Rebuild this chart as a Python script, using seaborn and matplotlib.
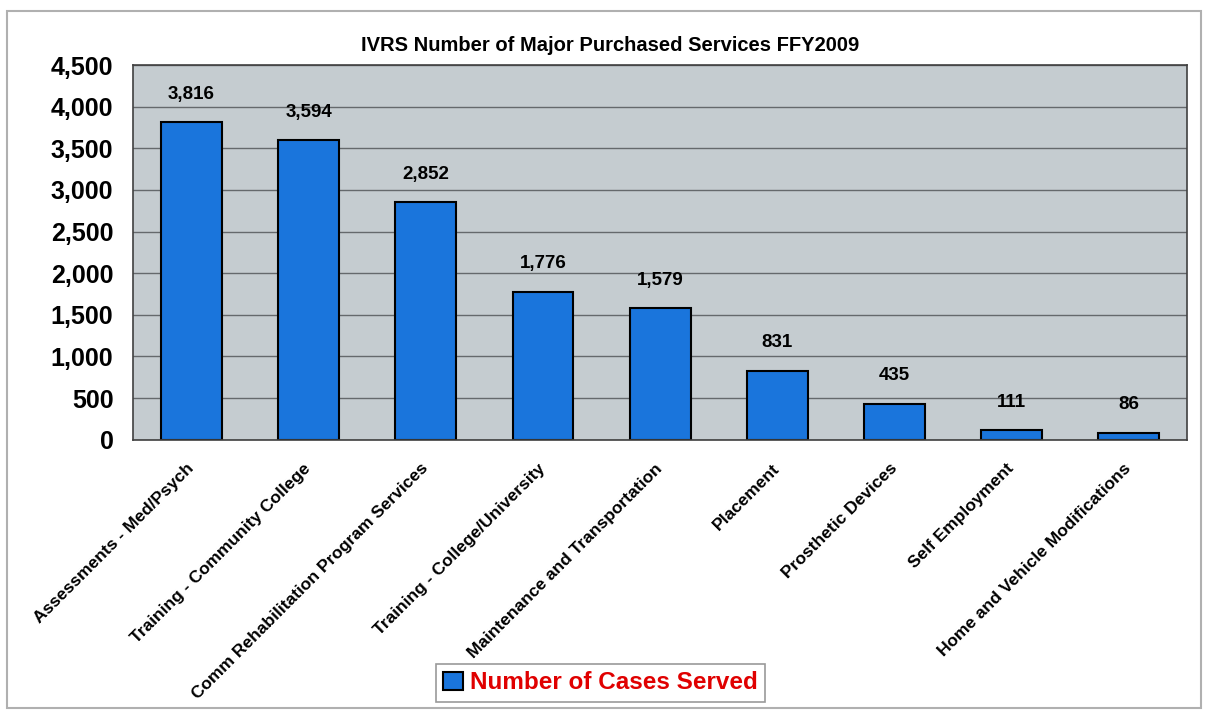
import matplotlib
matplotlib.use("Agg")
import matplotlib.pyplot as plt
import seaborn as sns
import pandas as pd
from matplotlib.patches import Rectangle

categories = [
    "Assessments - Med/Psych",
    "Training - Community College",
    "Comm Rehabilitation Program Services",
    "Training - College/University",
    "Maintenance and Transportation",
    "Placement",
    "Prosthetic Devices",
    "Self Employment",
    "Home and Vehicle Modifications",
]
cases_served = [3816, 3594, 2852, 1776, 1579, 831, 435, 111, 86]
y_ticks = [0, 500, 1000, 1500, 2000, 2500, 3000, 3500, 4000, 4500]
title = "IVRS Number of Major Purchased Services FFY2009"
series_name = "Number of Cases Served"

df = pd.DataFrame({"Service": categories, "Cases": cases_served})

sns.set_theme(style="white")
plt.rcParams["font.family"] = ["Liberation Sans", "DejaVu Sans"]
plt.rcParams["text.color"] = "black"
plt.rcParams["xtick.color"] = "black"
plt.rcParams["ytick.color"] = "black"

fig = plt.figure(figsize=(12.08, 7.15), dpi=100)
fig.patch.set_facecolor("white")
ax = fig.add_axes([0.110, 0.385, 0.873, 0.524])

bar_color = "#1a75dc"
sns.barplot(data=df, x="Service", y="Cases", ax=ax, color=bar_color,
            width=0.52, edgecolor="black", linewidth=1.5, saturation=1,
            label=series_name)

ax.set_facecolor("#c5ccd0")
ax.set_ylim(0, 4500)
ax.set_xlim(-0.5, len(categories) - 0.5)
ax.set_yticks(y_ticks)
ax.set_yticklabels([f"{v:,}" for v in y_ticks], fontsize=18, fontweight="bold",
                   color="black")
ax.yaxis.grid(True, color="#65696c", linewidth=1.0)
ax.set_axisbelow(True)
ax.set_xlabel("")
ax.set_ylabel("")
for s in ax.spines.values():
    s.set_color("#404040")
    s.set_linewidth(1.2)

ax.set_xticks(range(len(categories)))
ax.set_xticklabels(categories, rotation=45, ha="right", va="center",
                   rotation_mode="anchor", fontsize=12.5, fontweight="bold",
                   color="black")
ax.tick_params(axis="x", length=0, pad=19)
ax.tick_params(axis="y", length=0, pad=14)

for i, v in enumerate(cases_served):
    ax.annotate(f"{v:,}", (i, v), xytext=(0, 14), textcoords="offset points",
                ha="center", va="bottom", fontsize=13.5, fontweight="bold",
                color="black")

fig.text(0.505, 0.937, title, ha="center", va="center",
         fontsize=14.5, fontweight="bold", color="black")

leg = ax.legend(loc="center", frameon=True,
                fontsize=17.5, handlelength=0.8, handleheight=0.8,
                handletextpad=0.3, borderpad=0.3, fancybox=False)
leg.set_bbox_to_anchor((0.497, 0.045), transform=fig.transFigure)
leg.get_frame().set_edgecolor("#808080")
leg.get_frame().set_linewidth(1.2)
for t in leg.get_texts():
    t.set_color("#e00000")
    t.set_fontweight("bold")

fig.patches.append(Rectangle((0.006, 0.01), 0.988, 0.975, transform=fig.transFigure,
                             fill=False, edgecolor="#b0b0b0", linewidth=1.5))

fig.savefig("out.png", dpi=100, facecolor="white")
